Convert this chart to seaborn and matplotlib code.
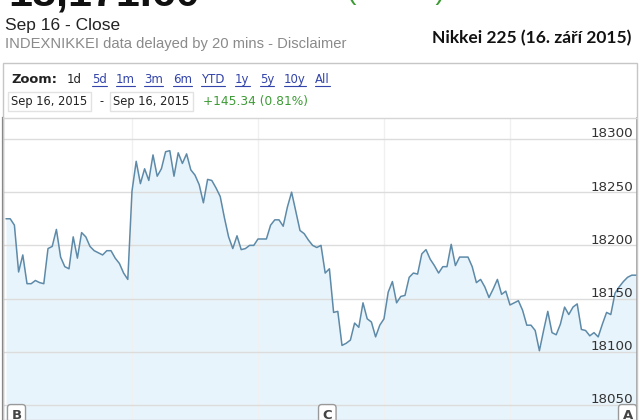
import numpy as np
import matplotlib
matplotlib.use('Agg')
import matplotlib.pyplot as plt
import seaborn as sns
from matplotlib.lines import Line2D
from matplotlib.patches import Rectangle
from matplotlib.transforms import blended_transform_factory

# Nikkei 225, 16 Sep 2015, 2-minute closes (lunch break squeezed out)
close = [
    18225, 18225, 18219, 18175, 18191, 18164, 18164, 18167, 18165, 18164,
    18197, 18199, 18215, 18189, 18180, 18178, 18208, 18188, 18212, 18208,
    18199, 18195, 18193, 18191, 18195, 18195, 18188, 18183, 18174, 18168,
    18251, 18279, 18258, 18272, 18261, 18285, 18265, 18272, 18288, 18289,
    18265, 18287, 18277, 18286, 18271, 18266, 18257, 18240, 18262, 18261,
    18254, 18246, 18226, 18208, 18197, 18209, 18196, 18197, 18200, 18200,
    18206, 18206, 18206, 18219, 18224, 18224, 18218, 18236, 18250, 18232,
    18214, 18211, 18205, 18200, 18198, 18200, 18174, 18178, 18137, 18138,
    18106, 18108, 18111, 18127, 18123, 18146, 18131, 18128, 18114, 18125,
    18131, 18156, 18166, 18146, 18152, 18153, 18170, 18174, 18173, 18192,
    18196, 18187, 18181, 18174, 18180, 18180, 18201, 18181, 18189, 18189,
    18189, 18180, 18165, 18168, 18161, 18151, 18159, 18168, 18154, 18157,
    18144, 18146, 18148, 18139, 18125, 18125, 18120, 18101, 18120, 18138,
    18118, 18116, 18126, 18142, 18135, 18142, 18145, 18121, 18120, 18115,
    18118, 18114, 18126, 18137, 18135, 18155, 18161, 18166, 18170, 18172,
    18172,
]
minutes = np.arange(len(close)) * 2

y_ticks = [18050, 18100, 18150, 18200, 18250, 18300]
hour_marks = [60, 120, 180, 240]
flags = ['B', 'C', 'A']
flag_minutes = [5, 153, 296]

zoom_links = ['1d', '5d', '1m', '3m', '6m', 'YTD', '1y', '5y', '10y', 'All']
link_x = [67, 92, 116, 144, 173, 201, 235, 260, 284, 315]

W, H = 640, 420
LINE_COL = '#5d8aa8'
FILL_COL = '#e8f4fb'


def fx(x):
    return x / W


def fy(y):
    return 1 - y / H


sns.set_style('white')
fig = plt.figure(figsize=(W / 100, H / 100), dpi=100)
fig.patch.set_facecolor('white')

# --- chart ---
ax = fig.add_axes([fx(3), 0, (637 - 3) / W, (420 - 118) / H])
ax.fill_between(minutes, close, 18000, color=FILL_COL, lw=0, zorder=1)
for v in y_ticks:
    ax.axhline(v, color='#dcdcdc', lw=1, zorder=1.5)
for m in hour_marks:
    ax.axvline(m, color='#f0f0f0', lw=1, zorder=1.4)
sns.lineplot(x=minutes, y=close, ax=ax, color=LINE_COL, lw=1.1, zorder=3)

ax.set_xlim(-1.43, 300.48)
ax.set_ylim(18035.9, 18319.7)
ax.set_xticks([])
ax.set_yticks([])
ax.set_xlabel('')
ax.set_ylabel('')
for side in ['top', 'bottom']:
    ax.spines[side].set_visible(False)
ax.spines['left'].set_color('#7a7a7a')
ax.spines['left'].set_linewidth(1.6)
ax.spines['right'].set_color('#9a9a9a')
ax.spines['right'].set_linewidth(1.2)

tr = blended_transform_factory(ax.transAxes, ax.transData)
for v in y_ticks:
    ax.annotate(str(v), xy=(1, v), xycoords=tr, xytext=(-4, 1.5),
                textcoords='offset pixels', ha='right', va='baseline',
                fontsize=9.7, color='#333333', family='DejaVu Sans', zorder=5)

trf = blended_transform_factory(ax.transData, ax.transAxes)
for lab, m in zip(flags, flag_minutes):
    ax.text(m, -0.005, lab, transform=trf, ha='center', va='bottom',
            fontsize=9.5, fontweight='bold', color='#444444', family='DejaVu Sans',
            bbox=dict(boxstyle='round,pad=0.3,rounding_size=0.25', fc='white',
                      ec='#999999', lw=1), zorder=6, clip_on=False)

# --- header ---
fig.text(fx(8), fy(5), '18,171.60', fontsize=31, fontweight='bold',
         family='Liberation Sans', va='baseline', color='#111111')
fig.text(fx(238), fy(-1), '+145.34 (0.81%)', fontsize=20,
         family='Liberation Sans', va='baseline', color='#3d9b35')
fig.text(fx(5), fy(30), 'Sep 16 - Close', fontsize=12.5,
         family='Liberation Sans', va='baseline', color='#222222')
fig.text(fx(5), fy(48), 'INDEXNIKKEI data delayed by 20 mins - Disclaimer',
         fontsize=10.6, family='Liberation Sans', va='baseline', color='#8a8a8a')
fig.text(fx(631), fy(43), 'Nikkei 225 (16. září 2015)', fontsize=12.5,
         fontweight='bold', family='Lato', ha='right', va='baseline', color='#111111')

fig.add_artist(Rectangle((fx(3), 0), (637 - 3) / W, (420 - 63) / H,
                         transform=fig.transFigure, fill=False, ec='#c6c6c6', lw=1))
fig.add_artist(Line2D([fx(3), fx(637)], [fy(118), fy(118)],
                      transform=fig.transFigure, color='#d6d6d6', lw=1))

fig.text(fx(11), fy(83), 'Zoom:', fontsize=9.4, fontweight='bold',
         family='DejaVu Sans', va='baseline', color='#222222')
link_texts = []
for lab, x in zip(zoom_links, link_x):
    col = '#222222' if lab == '1d' else '#3344aa'
    t = fig.text(fx(x), fy(83), lab, fontsize=8.5, family='DejaVu Sans',
                 va='baseline', color=col)
    link_texts.append((lab, t))

date_box = dict(boxstyle='square,pad=0.3', fc='white', ec='#e2e2e2', lw=1)
fig.text(fx(11), fy(105), 'Sep 16, 2015', fontsize=8.3, family='DejaVu Sans',
         va='baseline', color='#222222', bbox=date_box)
fig.text(fx(100), fy(105), '-', fontsize=8.3, family='DejaVu Sans',
         va='baseline', color='#222222')
fig.text(fx(113), fy(105), 'Sep 16, 2015', fontsize=8.3, family='DejaVu Sans',
         va='baseline', color='#222222', bbox=date_box)
fig.text(fx(203), fy(105), '+145.34 (0.81%)', fontsize=8.8, family='DejaVu Sans',
         va='baseline', color='#3d9b35')

# underline the zoom links
fig.canvas.draw()
rend = fig.canvas.get_renderer()
for lab, t in link_texts:
    if lab == '1d':
        continue
    bb = t.get_window_extent(rend)
    fig.add_artist(Line2D([bb.x0 / W, bb.x1 / W], [fy(85.5), fy(85.5)],
                          transform=fig.transFigure, color='#3344aa', lw=0.8))

fig.savefig('out.png', dpi=100)
plt.close(fig)
